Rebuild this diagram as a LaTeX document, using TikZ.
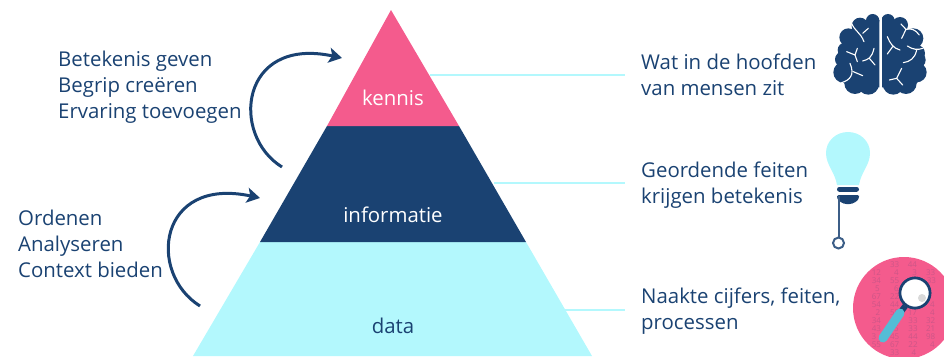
\documentclass[tikz,border=0pt]{standalone}
\usepackage{fontspec}
\setmainfont{Open Sans}
\usepackage{xcolor}
\usetikzlibrary{arrows.meta,positioning}
\definecolor{navy}{HTML}{1A4272}
\definecolor{roze}{HTML}{F45B8D}
\definecolor{ijs}{HTML}{B3F8FD}
\definecolor{steel}{HTML}{54BDD6}
\tikzset{
  lijst/.style={anchor=west,align=left,text=navy,font=\fontsize{20.4}{26}\selectfont,inner sep=0pt},
  laag/.style={font=\fontsize{20.4}{24}\selectfont,inner sep=0pt},
  lijn/.style={ijs,line width=2pt},
  boog/.style={navy,line width=3pt,-{Stealth[length=13pt,width=15pt,inset=3pt]}},
  getal/.style={text=roze!82!navy,font=\fontsize{8}{8}\selectfont,inner sep=0pt},
  plooi/.style={white,line width=1.1pt,line cap=round},
}
\begin{document}
\begin{tikzpicture}[x=1pt,y=-1pt]
\useasboundingbox (0,0) rectangle (944,356);
% de piramide
\fill [ijs] (260,242) -- (526,242) -- (592,356) -- (193,356) -- cycle;
\fill [navy] (327,126) -- (459,126) -- (526,242) -- (260,242) -- cycle;
\fill [roze] (391,10) -- (459,126) -- (327,126) -- cycle;
\node [laag,text=white] (kennis) at (393,98) {kennis};
\node [laag,text=white] (informatie) at (393,215) {informatie};
\node [laag,text=navy] (data) at (393,326) {data};
% lijnen naar rechts
\coordinate (k) at (430,75);
\coordinate (i) at (494,183);
\coordinate (d) at (565,310);
\node [lijst] (wat) at (641,75) {Wat in de hoofden\\van mensen zit};
\node [lijst] (geordend) at (641,185) {Geordende feiten\\krijgen betekenis};
\node [lijst] (naakt) at (641,311.5) {Naakte cijfers, feiten,\\processen};
\draw [lijn] (k) -- ([xshift=-16pt]k -| wat.west);
\draw [lijn] (i) -- ([xshift=-16pt]i -| geordend.west);
\draw [lijn] (d) -- ([xshift=-16pt]d -| naakt.west);
% links
\node [lijst] (boven) at (58,87) {Betekenis geven\\Begrip creëren\\Ervaring toevoegen};
\node [lijst] (onder) at (18,244) {Ordenen\\Analyseren\\Context bieden};
\coordinate (a1) at (282,167); \coordinate (a2) at (342,58);
\coordinate (b1) at (200,306); \coordinate (b2) at (260,198);
\draw [boog] (a1) .. controls (230,135) and (240,36) .. (a2);
\draw [boog] (b1) .. controls (147,273) and (158,176) .. (b2);
% brein
\begin{scope}[shift={(800,0)},x=0.3333pt,y=-0.3333pt]
\fill [navy] (238,60) -- (150,90) -- (125,240) -- (150,270) -- (238,262) -- cycle;
\fill [navy] (246,60) -- (330,90) -- (360,240) -- (330,270) -- (246,262) -- cycle;
\foreach \bx/\by/\br in {218/62/20,180/78/25,145/112/27,135/150/22,128/178/23,132/217/32,165/250/32,205/252/32,
  264/62/20,300/75/24,340/115/30,350/160/25,352/180/25,350/217/30,318/250/32,280/252/32}
  \fill [navy] (\bx,\by) circle (\br);
\fill [white] (240,44) rectangle (245,270);
\draw [plooi] (155,70) .. controls (165,95) and (180,95) .. (192,125) (188,100) -- (205,85);
\draw [plooi] (140,155) -- (165,165) -- (172,145) (165,165) -- (172,185);
\draw [plooi] (222,145) .. controls (215,175) and (205,178) .. (188,183) (208,175) -- (225,195);
\draw [plooi] (150,190) .. controls (165,225) and (150,240) .. (125,248) (160,215) -- (188,227);
\draw [plooi] (303,72) -- (318,88) -- (305,115) (318,88) .. controls (335,85) and (345,88) .. (358,105);
\draw [plooi] (262,110) .. controls (270,130) and (280,145) .. (300,150) (278,140) -- (262,162);
\draw [plooi] (322,138) .. controls (340,150) and (355,150) .. (368,145) (350,150) .. controls (345,175) and (330,185) .. (310,188);
\draw [plooi] (305,205) -- (290,235) -- (268,240) (290,235) -- (308,255);
\end{scope}
% lamp
\fill [ijs] (837,185) .. controls (835,172) and (826,165) .. (826,153) .. controls (826,141) and (836,132) .. (848,132) .. controls (860,132) and (870,141) .. (870,153) .. controls (870,165) and (861,172) .. (859,185) -- cycle;
\draw [navy,line width=5pt,line cap=round] (839.5,189) -- (856.5,189);
\fill [navy,rounded corners=1.5pt] (837,195) -- (859,195) -- (859,197) .. controls (858,201) and (853,204) .. (848,204) .. controls (843,204) and (838,201) .. (837,197) -- cycle;
\coordinate (draad) at (838.5,196);
\node [circle,draw=navy!85!white,line width=2pt,minimum size=11pt,inner sep=0pt] (knop) at (838.5,243) {};
\draw [navy!85!white,line width=2pt] (draad) -- (knop);
% cijfers met vergrootglas
\begin{scope}
\clip (0,0) rectangle (944,356);
\fill [roze] (904,308) circle (51);
\begin{scope}[shift={(824,250)},x=0.3333pt,y=-0.3333pt]
\foreach \tx/\ty/\tl in {212/45/33,265/45/44,157/68/12,217/68/4,272/68/3,320/68/33,157/92/34,212/92/55,322/92/33,160/116/5,217/116/6,157/140/67,212/140/22,157/163/54,212/163/44,325/163/4,162/188/2,212/188/55,265/188/17,325/188/4,157/213/34,267/213/33,320/213/32,157/236/43,217/236/5,267/236/33,320/236/21,150/260/3,212/260/45,267/260/44,320/260/98,157/284/55,212/284/67,267/284/22,325/284/4,212/308/33,270/308/4}
  \node [getal] at (\tx,\ty) {\tl};
\end{scope}
\end{scope}
\coordinate (steel1) at (900,313);
\coordinate (steel2) at (883,338);
\node [circle,fill=white,draw=navy,line width=2.6pt,minimum size=30pt,inner sep=0pt] (lens) at (915,293) {};
\draw [navy,line width=6pt] (lens) -- (steel1);
\draw [steel,line width=9pt,line cap=round] (steel1) -- (steel2);
\node [circle,fill=white,draw=navy,line width=2.6pt,minimum size=30pt,inner sep=0pt] at (915,293) {};
\fill [black!15] (922,298) circle (4);
\end{tikzpicture}
\end{document}
